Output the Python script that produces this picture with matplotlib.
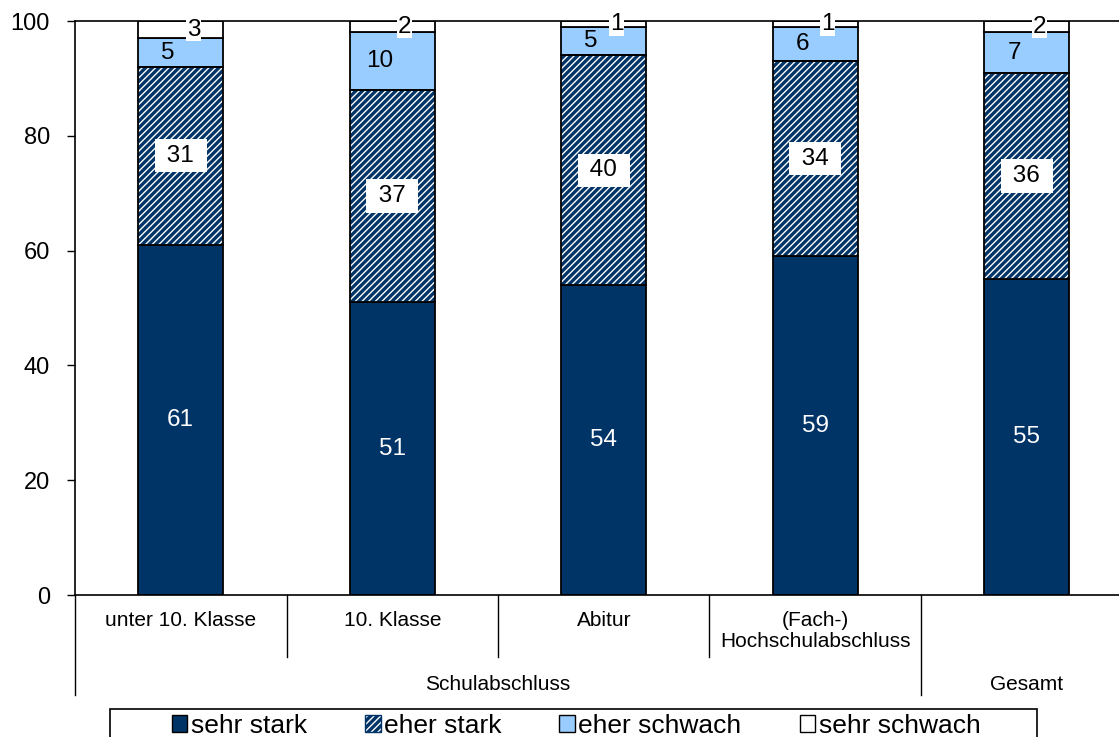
import numpy as np
import matplotlib.pyplot as plt
from matplotlib.patches import Patch, Rectangle

plt.rcParams['font.family'] = ['Liberation Sans', 'DejaVu Sans']
plt.rcParams['hatch.linewidth'] = 2.4

categories = ["unter 10. Klasse", "10. Klasse", "Abitur", "(Fach-)\nHochschulabschluss", ""]
groups = ["Schulabschluss", "Gesamt"]
series = ["sehr stark", "eher stark", "eher schwach", "sehr schwach"]
sehr_stark = [61, 51, 54, 59, 55]
eher_stark = [31, 37, 40, 34, 36]
eher_schwach = [5, 10, 5, 6, 7]
sehr_schwach = [3, 2, 1, 1, 2]

navy = '#003366'
light = '#99CCFF'

fig = plt.figure(figsize=(11.19, 7.37), dpi=100)
ax = fig.add_axes([75/1119, 142/737, 1057.5/1119, 574/737])

x = np.arange(len(categories))
w = 0.4
values = [sehr_stark, eher_stark, eher_schwach, sehr_schwach]
bottom = np.zeros(len(x))
for i, vals in enumerate(values):
    vals = np.array(vals)
    if i == 1:
        # hatch in navy, border in black
        ax.bar(x, vals, w, bottom=bottom, color='white', edgecolor=navy,
               hatch='/////', linewidth=0, zorder=2)
        ax.bar(x, vals, w, bottom=bottom, fill=False, edgecolor='black',
               linewidth=1.3, zorder=2.2)
    else:
        fc = [navy, None, light, 'white'][i]
        ax.bar(x, vals, w, bottom=bottom, color=fc, edgecolor='black',
               linewidth=1.3, zorder=2)
    for xi, b, v in zip(x, bottom, vals):
        yc = b + v / 2
        if i == 0:
            ax.text(xi, yc, str(v), ha='center', va='center', fontsize=17.5, color='white', zorder=5)
        elif i == 1:
            ax.text(xi, yc, " %d " % v, ha='center', va='center', fontsize=17.5, color='black', zorder=5,
                    bbox=dict(facecolor='white', edgecolor='none', pad=4))
        elif i == 2:
            ax.text(xi - 0.06, yc, str(v), ha='center', va='center', fontsize=17.5, color='black', zorder=5)
        else:
            ax.text(xi + 0.06, yc, str(v), ha='center', va='center', fontsize=17.5, color='black', zorder=5,
                    bbox=dict(facecolor='white', edgecolor='none', pad=0.5))
    bottom += vals

ax.set_xlim(-0.5, 4.5)
ax.set_ylim(0, 100)
ax.set_yticks([0, 20, 40, 60, 80, 100])
ax.tick_params(axis='y', labelsize=17, length=6, pad=12, width=1)
ax.set_xticks([])
ax.spines['right'].set_visible(False)
for s in ['left', 'bottom', 'top']:
    ax.spines[s].set_linewidth(1.2)

# hierarchical category axis
tr = ax.get_xaxis_transform()
for xb in [0.5, 1.5, 2.5]:
    ax.plot([xb, xb], [0, -62/574], color='black', lw=1, transform=tr, clip_on=False)
for xb in [-0.5, 3.5]:
    ax.plot([xb, xb], [0, -100/574], color='black', lw=1, transform=tr, clip_on=False)
for xi, lab in zip(x, categories):
    ax.text(xi, -16/574, lab, ha='center', va='top', fontsize=15, transform=tr,
            linespacing=1.15)
ax.text(1.5, -90/574, groups[0], ha='center', va='center', fontsize=15, transform=tr)
ax.text(4, -90/574, groups[1], ha='center', va='center', fontsize=15, transform=tr)

# legend
handles = [Patch(facecolor=navy, edgecolor='black', lw=1),
           Patch(facecolor='white', edgecolor=navy, hatch='/////', lw=1),
           Patch(facecolor=light, edgecolor='black', lw=1),
           Patch(facecolor='white', edgecolor='black', lw=1)]
fig.patches.append(Rectangle((110/1119, -0.05), 927/1119, 0.05 + 28/737, transform=fig.transFigure,
                             fill=False, edgecolor='black', lw=1.2))
fig.legend(handles, series, loc='center', bbox_to_anchor=(576/1119, 11/737), ncol=4,
           frameon=False, fontsize=19, handlelength=0.6, handleheight=0.6,
           handletextpad=0.12, columnspacing=2.2, borderpad=0)

fig.savefig('out.png', dpi=100)
